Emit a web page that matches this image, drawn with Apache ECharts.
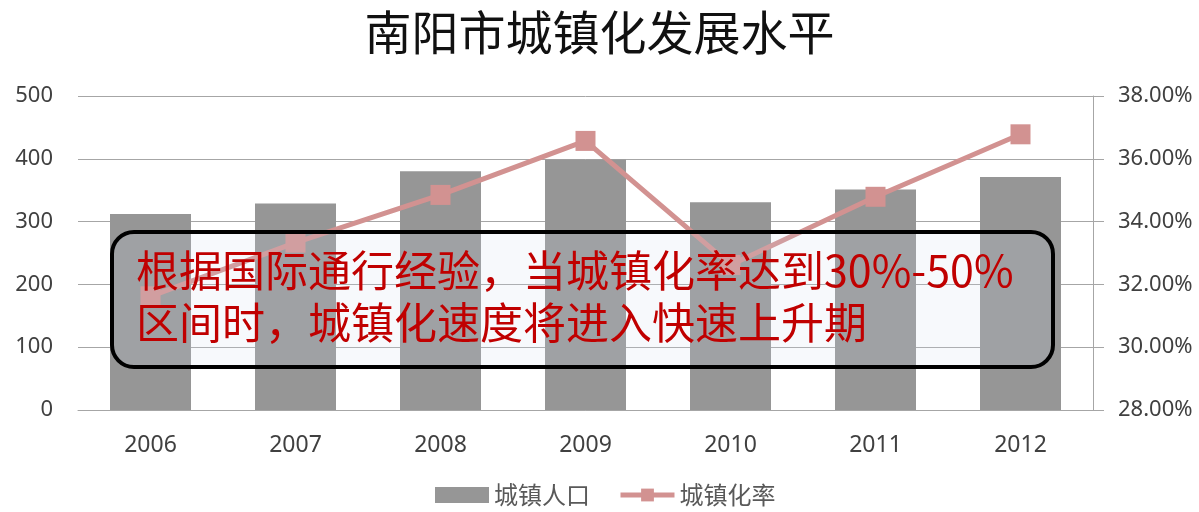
<!DOCTYPE html>
<html>
<head>
<meta charset="utf-8">
<script src="https://cdn.jsdelivr.net/npm/echarts@6/dist/echarts.min.js"></script>
<style>
  html, body { margin: 0; padding: 0; background: #fff; }
  #chart { width: 1199px; height: 512px; }
</style>
</head>
<body>
<div id="chart"></div>
<script>
// 年份
const years = ['2006', '2007', '2008', '2009', '2010', '2011', '2012'];
// 城镇人口（万人）
const urbanPop = [312, 329, 380, 399, 331, 351, 371];
// 城镇化率（%）
const urbanRate = [31.62, 33.33, 34.85, 36.57, 32.62, 34.79, 36.78];

const titleText = '南阳市城镇化发展水平';
const noteLines = ['根据国际通行经验，当城镇化率达到30%-50%', '区间时，城镇化速度将进入快速上升期'];

const FONT = '"Noto Sans CJK SC", "Noto Sans", sans-serif';
const NUM_FONT = '"Noto Sans", "Noto Sans CJK SC", sans-serif';
const chart = echarts.init(document.getElementById('chart'));

chart.setOption({
  animation: false,
  backgroundColor: '#fff',
  title: {
    text: titleText,
    left: 'center',
    top: 4,
    textStyle: { fontFamily: FONT, fontSize: 47, fontWeight: 'normal', color: '#111' }
  },
  grid: { left: 78, right: 106, top: 96, bottom: 102 },
  legend: {
    bottom: 0,
    left: 430,
    itemGap: 28,
    itemWidth: 54,
    itemHeight: 16,
    textStyle: { fontFamily: FONT, fontSize: 24, color: '#595959' },
    data: [
      { name: '城镇人口', icon: 'rect', itemStyle: { borderWidth: 0 } },
      { name: '城镇化率', lineStyle: { width: 5 } }
    ]
  },
  xAxis: {
    type: 'category',
    data: years,
    axisLine: { lineStyle: { color: '#a6a6a6', width: 1 } },
    axisTick: { show: false },
    axisLabel: { fontFamily: NUM_FONT, fontSize: 23, color: '#404040', margin: 24 }
  },
  yAxis: [
    {
      type: 'value',
      min: 0, max: 500, interval: 100,
      axisLine: { show: false },
      axisTick: { show: false },
      splitLine: { lineStyle: { color: '#a6a6a6', width: 1 } },
      axisLabel: { fontFamily: NUM_FONT, fontSize: 22, color: '#404040', margin: 25 }
    },
    {
      type: 'value',
      min: 28, max: 38, interval: 2,
      axisLine: { show: true, lineStyle: { color: '#a6a6a6', width: 1 } },
      axisTick: { show: true, length: 11, lineStyle: { color: '#a6a6a6' } },
      splitLine: { show: false },
      axisLabel: {
        fontFamily: NUM_FONT, fontSize: 22, color: '#404040', margin: 25,
        formatter: v => v.toFixed(2) + '%'
      }
    }
  ],
  series: [
    {
      name: '城镇人口',
      type: 'bar',
      data: urbanPop,
      barWidth: 81,
      itemStyle: { color: '#969696' }
    },
    {
      name: '城镇化率',
      type: 'line',
      yAxisIndex: 1,
      data: urbanRate,
      symbol: 'rect',
      symbolSize: 20,
      lineStyle: { color: '#d29291', width: 5 },
      itemStyle: { color: '#d29291' }
    }
  ],
  graphic: [
    {
      type: 'rect',
      z: 100,
      shape: { x: 112, y: 232, width: 941, height: 135, r: 22 },
      style: { fill: 'rgba(205,222,240,0.17)', stroke: '#000', lineWidth: 4 }
    },
    {
      type: 'text',
      z: 101,
      left: 136,
      top: 245,
      style: {
        text: noteLines.join('\n'),
        fill: '#c00000',
        font: '43px ' + FONT,
        lineHeight: 52
      }
    }
  ]
});
</script>
</body>
</html>
